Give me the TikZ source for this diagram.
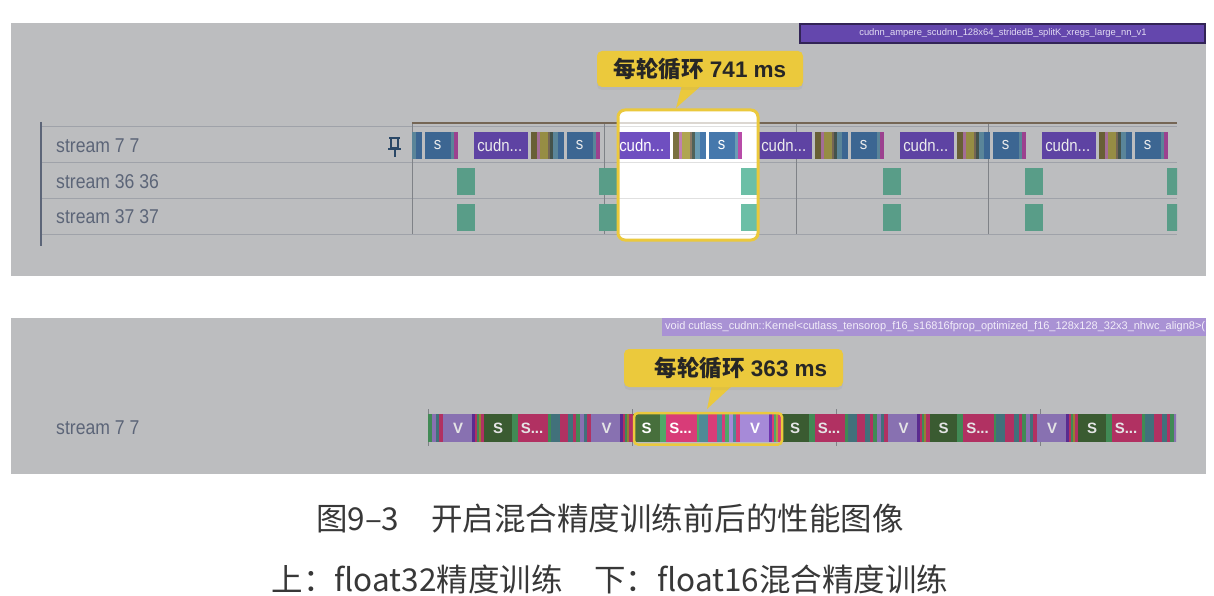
\documentclass[tikz,border=0pt]{standalone}
\usepackage{fontspec}
\setmainfont{Liberation Sans}
\newfontfamily\cjk{Noto Sans CJK SC}
\newfontfamily\narrowsans[FakeStretch=0.88]{Liberation Sans}
\usetikzlibrary{shadows}

\definecolor{panelgray}{HTML}{BCBDBF}
\definecolor{rowline}{HTML}{9FA2A9}
\definecolor{labelgray}{HTML}{5C6578}
\definecolor{noteyellow}{HTML}{EBC93C}
\definecolor{cpurple}{HTML}{6F4FC0}
\definecolor{cblue}{HTML}{4678AC}
\definecolor{cteal}{HTML}{6CBFA6}
\definecolor{cmagenta}{HTML}{B84CA8}
\definecolor{colive}{HTML}{7A7040}
\definecolor{cyellow}{HTML}{B0A650}
\definecolor{cpink}{HTML}{C080B0}
\definecolor{cbrown}{HTML}{8A7864}
\definecolor{cdark}{HTML}{50625A}
\definecolor{csky}{HTML}{6A9CB4}
\definecolor{sgreen}{HTML}{476F3C}
\definecolor{scrimson}{HTML}{D83C78}
\definecolor{sviolet}{HTML}{A68AD8}
\definecolor{sdeep}{HTML}{6E34B0}
\definecolor{sleaf}{HTML}{4FA868}
\definecolor{sdust}{HTML}{4F8A96}
\definecolor{sgold}{HTML}{B89A40}

\tikzset{
    panel/.style={fill=panelgray},
    rowrule/.style={draw=rowline, line width=1pt},
    tick/.style={draw=#1, line width=1pt},
    streamlabel/.style={anchor=west, text=labelgray, font=\fontsize{20}{20}\narrowsans\selectfont, inner sep=0pt},
    note/.style={fill=noteyellow, rounded corners=5pt, inner sep=0pt, font=\fontsize{22.5}{22.5}\bfseries\selectfont, text=black!85},
    hilite/.style={draw=noteyellow, rounded corners=7pt},
    blocktext/.style={inner sep=0pt, font=\fontsize{17}{17}\narrowsans\selectfont},
    barletter/.style={inner sep=0pt, font=\fontsize{15}{15}\bfseries\selectfont},
    captext/.style={inner sep=0pt, text=black!78, font=\fontsize{31.5}{32}\cjk\selectfont},
}

% one cycle of the upper timeline: name, start, shade, text colour
\newcommand{\tlcycle}[4]{
    \foreach \a/\b/\c in {0/54/cpurple, 57/63/colive, 63/66/cpink, 66/74/cyellow, 74/76.5/cbrown,
        76.5/79/cdark, 79/84/csky, 84/90/cblue, 93/119/cblue, 119/122/csky, 122/126/cmagenta}
        \fill[fill=\c!#3!black] (#2+\a,132) rectangle (#2+\b,159);
    \node[blocktext, text=#4] (cudn#1) at (#2+26,145) {cudn...};
    \node[blocktext, text=#4] (sblock#1) at (#2+106,145) {s};
}
% one cycle of the lower timeline: name, start, shade, text colour
\newcommand{\bcycle}[4]{
    \foreach \a/\b/\c in {0/27.7/sgreen, 27.7/33.7/sleaf, 33.7/64/scrimson, 64/66.6/sleaf, 66.6/75.6/sdust,
        75.6/84/scrimson, 84/89/sdust, 89/92/scrimson, 92/96/sleaf, 96/100/sviolet, 100/103/sdust,
        103/107/scrimson, 107/109/sviolet, 109/136/sviolet, 136/139/sdeep, 139/141/scrimson,
        141/143/sleaf, 143/145/sgold, 145/148.5/scrimson}
        \fill[fill=\c!#3!black] (#2+\a,414) rectangle (#2+\b,442);
    \node[barletter, text=#4] (sa#1) at (#2+14,428) {S};
    \node[barletter, text=#4] (sb#1) at (#2+48,428) {S...};
    \node[barletter, text=#4] (vb#1) at (#2+122.5,428) {V};
}

\begin{document}
\begin{tikzpicture}[x=1pt, y=-1pt]
    \useasboundingbox (0,0) rectangle (1214,596);

    % upper panel
    \fill[panel] (11,23) rectangle (1206,276);
    \fill[fill=cpurple!90!black, draw=cpurple!45!black, line width=2pt] (800,24) rectangle (1205,43);
    \node[inner sep=0pt, text=white!80!cpurple, font=\fontsize{9.4}{10}\selectfont] (kernel) at (1003,33)
        {cudnn\_ampere\_scudnn\_128x64\_stridedB\_splitK\_xregs\_large\_nn\_v1};

    \foreach \y in {127,163,198.5,234}
        \draw[rowrule] (41,\y) -- (1177,\y);
    \draw[draw=labelgray, line width=1.5pt] (41,122) -- (41,246);
    \foreach \x in {412,604,796.5,988}
        \draw[tick=rowline!80!black] (\x,122) -- (\x,234);
    \draw[draw=cbrown!85!black, line width=1.5pt] (412,123) -- (1177,123);

    \node[streamlabel] (rowa) at (56,146) {stream 7 7};
    \node[streamlabel] (rowb) at (56,181.5) {stream 36 36};
    \node[streamlabel] (rowc) at (56,217) {stream 37 37};

    % pin
    \draw[draw=cblue!60!black, line width=2pt] (389,138) -- (400,138) (391,138) rectangle (398,148)
        (388,149) -- (401,149) (394.5,149) -- (394.5,157);

    \begin{scope}
        \clip (412,120) rectangle (1177,240);
        \foreach \p/\n in {331.7/a, 473.7/b, 757.7/d, 899.7/e, 1041.7/f}
            \tlcycle{\n}{\p}{85}{white!70!panelgray};
        \foreach \x in {456.7,598.7,882.7,1024.7,1166.7} {
            \fill[fill=cteal!82!black] (\x,168) rectangle (\x+18,195);
            \fill[fill=cteal!82!black] (\x,204) rectangle (\x+18,231);
        }
    \end{scope}

    % highlighted cycle, upper
    \begin{scope}
        \clip[rounded corners=7pt] (618,110) rectangle (758,240);
        \fill[white] (618,110) rectangle (758,240);
        \foreach \y in {127,163,198.5,234}
            \draw[draw=black!12, line width=1pt] (618,\y) -- (758,\y);
        \draw[draw=cbrown!30, line width=1.5pt] (618,123) -- (758,123);
        \tlcycle{c}{615.7}{100}{white};
        \fill[fill=cteal] (740.7,168) rectangle (760,195);
        \fill[fill=cteal] (740.7,204) rectangle (760,231);
    \end{scope}
    \draw[hilite, line width=3pt] (618,110) rectangle (758,240);

    \coordinate (toptip) at (676,108);
    \fill[noteyellow] (682,85) -- (toptip) -- (702,85) -- cycle;
    \node[note, minimum width=206pt, minimum height=36pt, drop shadow={shadow xshift=0pt, shadow yshift=-3pt, opacity=.1}] (topnote) at (700,69)
        {{\cjk 每轮循环} 741 ms};

    % lower panel
    \fill[panel] (11,318) rectangle (1206,474);
    \begin{scope}
        \clip (662,318) rectangle (1206,336);
        \fill[fill=sviolet!85!panelgray] (662,318) rectangle (1206,336);
        \node[anchor=west, inner sep=0pt, text=white!85!sviolet, font=\fontsize{11}{12}\selectfont] (voidlabel) at (665,327)
            {void cutlass\_cudnn::Kernel<cutlass\_tensorop\_f16\_s16816fprop\_optimized\_f16\_128x128\_32x3\_nhwc\_align8>(};
    \end{scope}

    \node[streamlabel] (rowd) at (56,428) {stream 7 7};

    \foreach \x in {428,632,836,1040}
        \draw[tick=rowline!80!black] (\x,409) -- (\x,446);
    \begin{scope}
        \clip (428,414) rectangle (1176,442);
        \foreach \p/\n in {335.5/a, 484/b, 632.5/c, 781/d, 929.5/e, 1078/f}
            \bcycle{\n}{\p}{82}{white!60!panelgray};
    \end{scope}
    \begin{scope}
        \clip (634,413) rectangle (782,444);
        \bcycle{g}{632.5}{100}{white};
    \end{scope}
    \draw[hilite, rounded corners=4pt, line width=2.5pt] (634,413) rectangle (782,444.5);

    \coordinate (lowtip) at (707,409);
    \fill[noteyellow] (712,385) -- (lowtip) -- (733,385) -- cycle;
    \node[note, minimum width=219pt, minimum height=38pt, drop shadow={shadow xshift=0pt, shadow yshift=-3pt, opacity=.1}] (lownote) at (733.5,368)
        {\hspace*{15pt}{\cjk 每轮循环} 363 ms};

    % caption
    \node[captext] (capa) at (610,519) {图9–3\hspace{32pt}开启混合精度训练前后的性能图像};
    \node[captext] (capb) at (610,579) {上：float32精度训练\hspace{32pt}下：float16混合精度训练};
\end{tikzpicture}
\end{document}
